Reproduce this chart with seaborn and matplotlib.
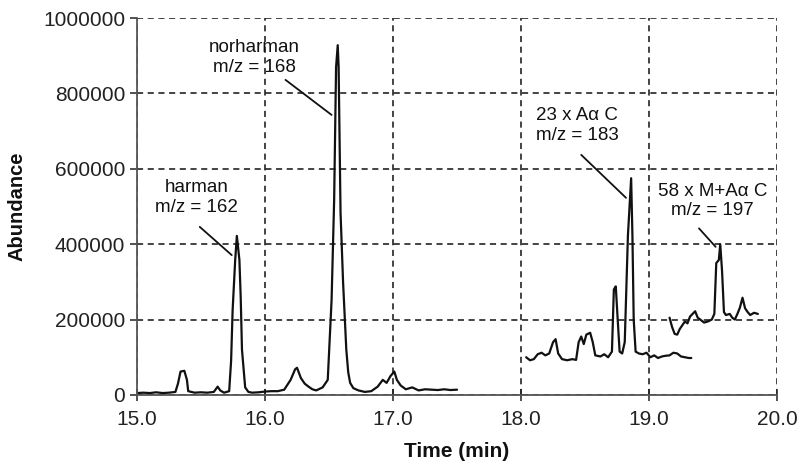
import matplotlib
matplotlib.use("Agg")
import matplotlib.pyplot as plt
import seaborn as sns
import pandas as pd
from matplotlib.ticker import FuncFormatter

# ---- data ----
seg1_time = [15.00, 15.05, 15.10, 15.15, 15.20, 15.25, 15.30, 15.32, 15.34, 15.37, 15.39, 15.40,
             15.45, 15.50, 15.55, 15.60, 15.63, 15.65, 15.68, 15.72, 15.735, 15.747, 15.767, 15.78,
             15.80, 15.81, 15.82, 15.845, 15.87, 15.90, 15.95, 16.00, 16.05, 16.10, 16.15, 16.20,
             16.235, 16.25, 16.28, 16.31, 16.34, 16.37, 16.40, 16.45, 16.49, 16.52, 16.54, 16.555,
             16.568, 16.575, 16.59, 16.61, 16.635, 16.65, 16.665, 16.69, 16.73, 16.78, 16.83,
             16.88, 16.92, 16.95, 16.98, 17.01, 17.03, 17.06, 17.10, 17.15, 17.20, 17.25, 17.30,
             17.35, 17.40, 17.45, 17.50]
seg1_abund = [5000, 6000, 5000, 7000, 5000, 6000, 8000, 30000, 62000, 64000, 40000, 10000,
              6000, 7000, 6000, 8000, 22000, 12000, 6000, 10000, 90000, 225000, 358000, 422000,
              358000, 260000, 120000, 20000, 8000, 6000, 7000, 9000, 10000, 10000, 14000, 40000,
              68000, 72000, 45000, 30000, 22000, 15000, 12000, 20000, 40000, 252000, 517000, 870000,
              928000, 870000, 483000, 297000, 120000, 60000, 32000, 18000, 12000, 8000, 10000,
              22000, 40000, 32000, 50000, 62000, 40000, 25000, 15000, 20000, 12000, 15000, 14000,
              13000, 15000, 13000, 14000]

seg2_time = [18.04, 18.07, 18.10, 18.13, 18.16, 18.19, 18.22, 18.25, 18.27, 18.29, 18.32, 18.36,
             18.40, 18.43, 18.45, 18.47, 18.49, 18.51, 18.54, 18.56, 18.58, 18.62, 18.65, 18.68,
             18.71, 18.725, 18.74, 18.755, 18.77, 18.79, 18.81, 18.835, 18.86, 18.87, 18.88,
             18.895, 18.92, 18.95, 18.98, 19.01, 19.04, 19.07, 19.10, 19.13, 19.16, 19.19, 19.22,
             19.25, 19.28, 19.31, 19.33]
seg2_abund = [100000, 92000, 95000, 108000, 112000, 105000, 110000, 140000, 148000, 110000, 95000,
              92000, 95000, 93000, 140000, 155000, 135000, 160000, 165000, 140000, 105000, 102000,
              108000, 100000, 115000, 280000, 288000, 200000, 115000, 110000, 140000, 424000,
              575000, 424000, 200000, 115000, 110000, 108000, 112000, 100000, 105000, 98000,
              102000, 104000, 105000, 112000, 110000, 102000, 100000, 98000, 98000]

seg3_time = [19.16, 19.18, 19.20, 19.22, 19.24, 19.26, 19.28, 19.30, 19.32, 19.34, 19.36, 19.38,
             19.40, 19.43, 19.46, 19.49, 19.51, 19.525, 19.545, 19.556, 19.57, 19.585, 19.60,
             19.63, 19.65, 19.67, 19.69, 19.71, 19.73, 19.75, 19.77, 19.79, 19.82, 19.85]
seg3_abund = [205000, 180000, 162000, 160000, 175000, 185000, 195000, 190000, 208000, 215000,
              222000, 205000, 200000, 192000, 195000, 200000, 215000, 350000, 358000, 400000,
              330000, 220000, 212000, 215000, 205000, 200000, 215000, 232000, 258000, 230000,
              220000, 212000, 218000, 215000]

x_ticks = [15.0, 16.0, 17.0, 18.0, 19.0, 20.0]
y_ticks = [0, 200000, 400000, 600000, 800000, 1000000]

labels = ["norharman\nm/z = 168", "harman\nm/z = 162", "23 x A\u03b1 C\nm/z = 183",
          "58 x M+A\u03b1 C\nm/z = 197"]
label_x = [15.915, 15.463, 18.44, 19.494]
label_y = [895000, 524000, 715000, 515000]
leader_start_x = [16.16, 15.49, 18.47, 19.39]
leader_start_y = [836000, 446000, 637000, 442000]
leader_end_x = [16.52, 15.74, 18.82, 19.52]
leader_end_y = [743000, 371000, 523000, 393000]

# ---- plotting ----
sns.set_theme(style="ticks")
plt.rcParams["font.family"] = ["Liberation Sans", "DejaVu Sans"]

fig = plt.figure(figsize=(7.97, 4.63), dpi=100)
ax = fig.add_axes([0.1719, 0.147, 0.975 - 0.1719, 0.961 - 0.147])

df = pd.concat([
    pd.DataFrame({"t": seg1_time, "a": seg1_abund, "seg": "s1"}),
    pd.DataFrame({"t": seg2_time, "a": seg2_abund, "seg": "s2"}),
    pd.DataFrame({"t": seg3_time, "a": seg3_abund, "seg": "s3"}),
])
for name, sub in df.groupby("seg"):
    sns.lineplot(data=sub, x="t", y="a", ax=ax, color="#111111", linewidth=1.6,
                 estimator=None, sort=False, legend=False)

ax.set_xlim(15.0, 20.0)
ax.set_ylim(0, 1000000)
ax.set_xticks(x_ticks)
ax.set_yticks(y_ticks)
ax.xaxis.set_major_formatter(FuncFormatter(lambda v, p: f"{v:.1f}"))
ax.yaxis.set_major_formatter(FuncFormatter(lambda v, p: f"{int(round(v))}"))

ax.grid(True, linestyle=(0, (4, 3)), color="#111111", linewidth=1.1)
ax.set_axisbelow(True)
for s in ["top", "right"]:
    ax.spines[s].set_visible(False)
for s in ["left", "bottom"]:
    ax.spines[s].set_color("#555555")
    ax.spines[s].set_linewidth(1.3)

ax.tick_params(axis="both", labelsize=15, colors="#222222", length=5, width=1.1)
ax.tick_params(axis="x", direction="inout", length=8, pad=7)
ax.set_xlabel("Time (min)", fontsize=15, fontweight="bold", color="#111111", labelpad=9)
ax.set_ylabel("Abundance", fontsize=14.5, fontweight="bold", color="#111111", labelpad=12)

for lab, lx, ly in zip(labels, label_x, label_y):
    ax.text(lx, ly, lab, ha="center", va="center", fontsize=13.5, color="#111111")
for sx, sy, ex, ey in zip(leader_start_x, leader_start_y, leader_end_x, leader_end_y):
    ax.annotate("", xy=(ex, ey), xytext=(sx, sy),
                arrowprops=dict(arrowstyle="-", color="#111111", lw=1.3,
                                shrinkA=0, shrinkB=0))

fig.savefig("out.png", dpi=100)
